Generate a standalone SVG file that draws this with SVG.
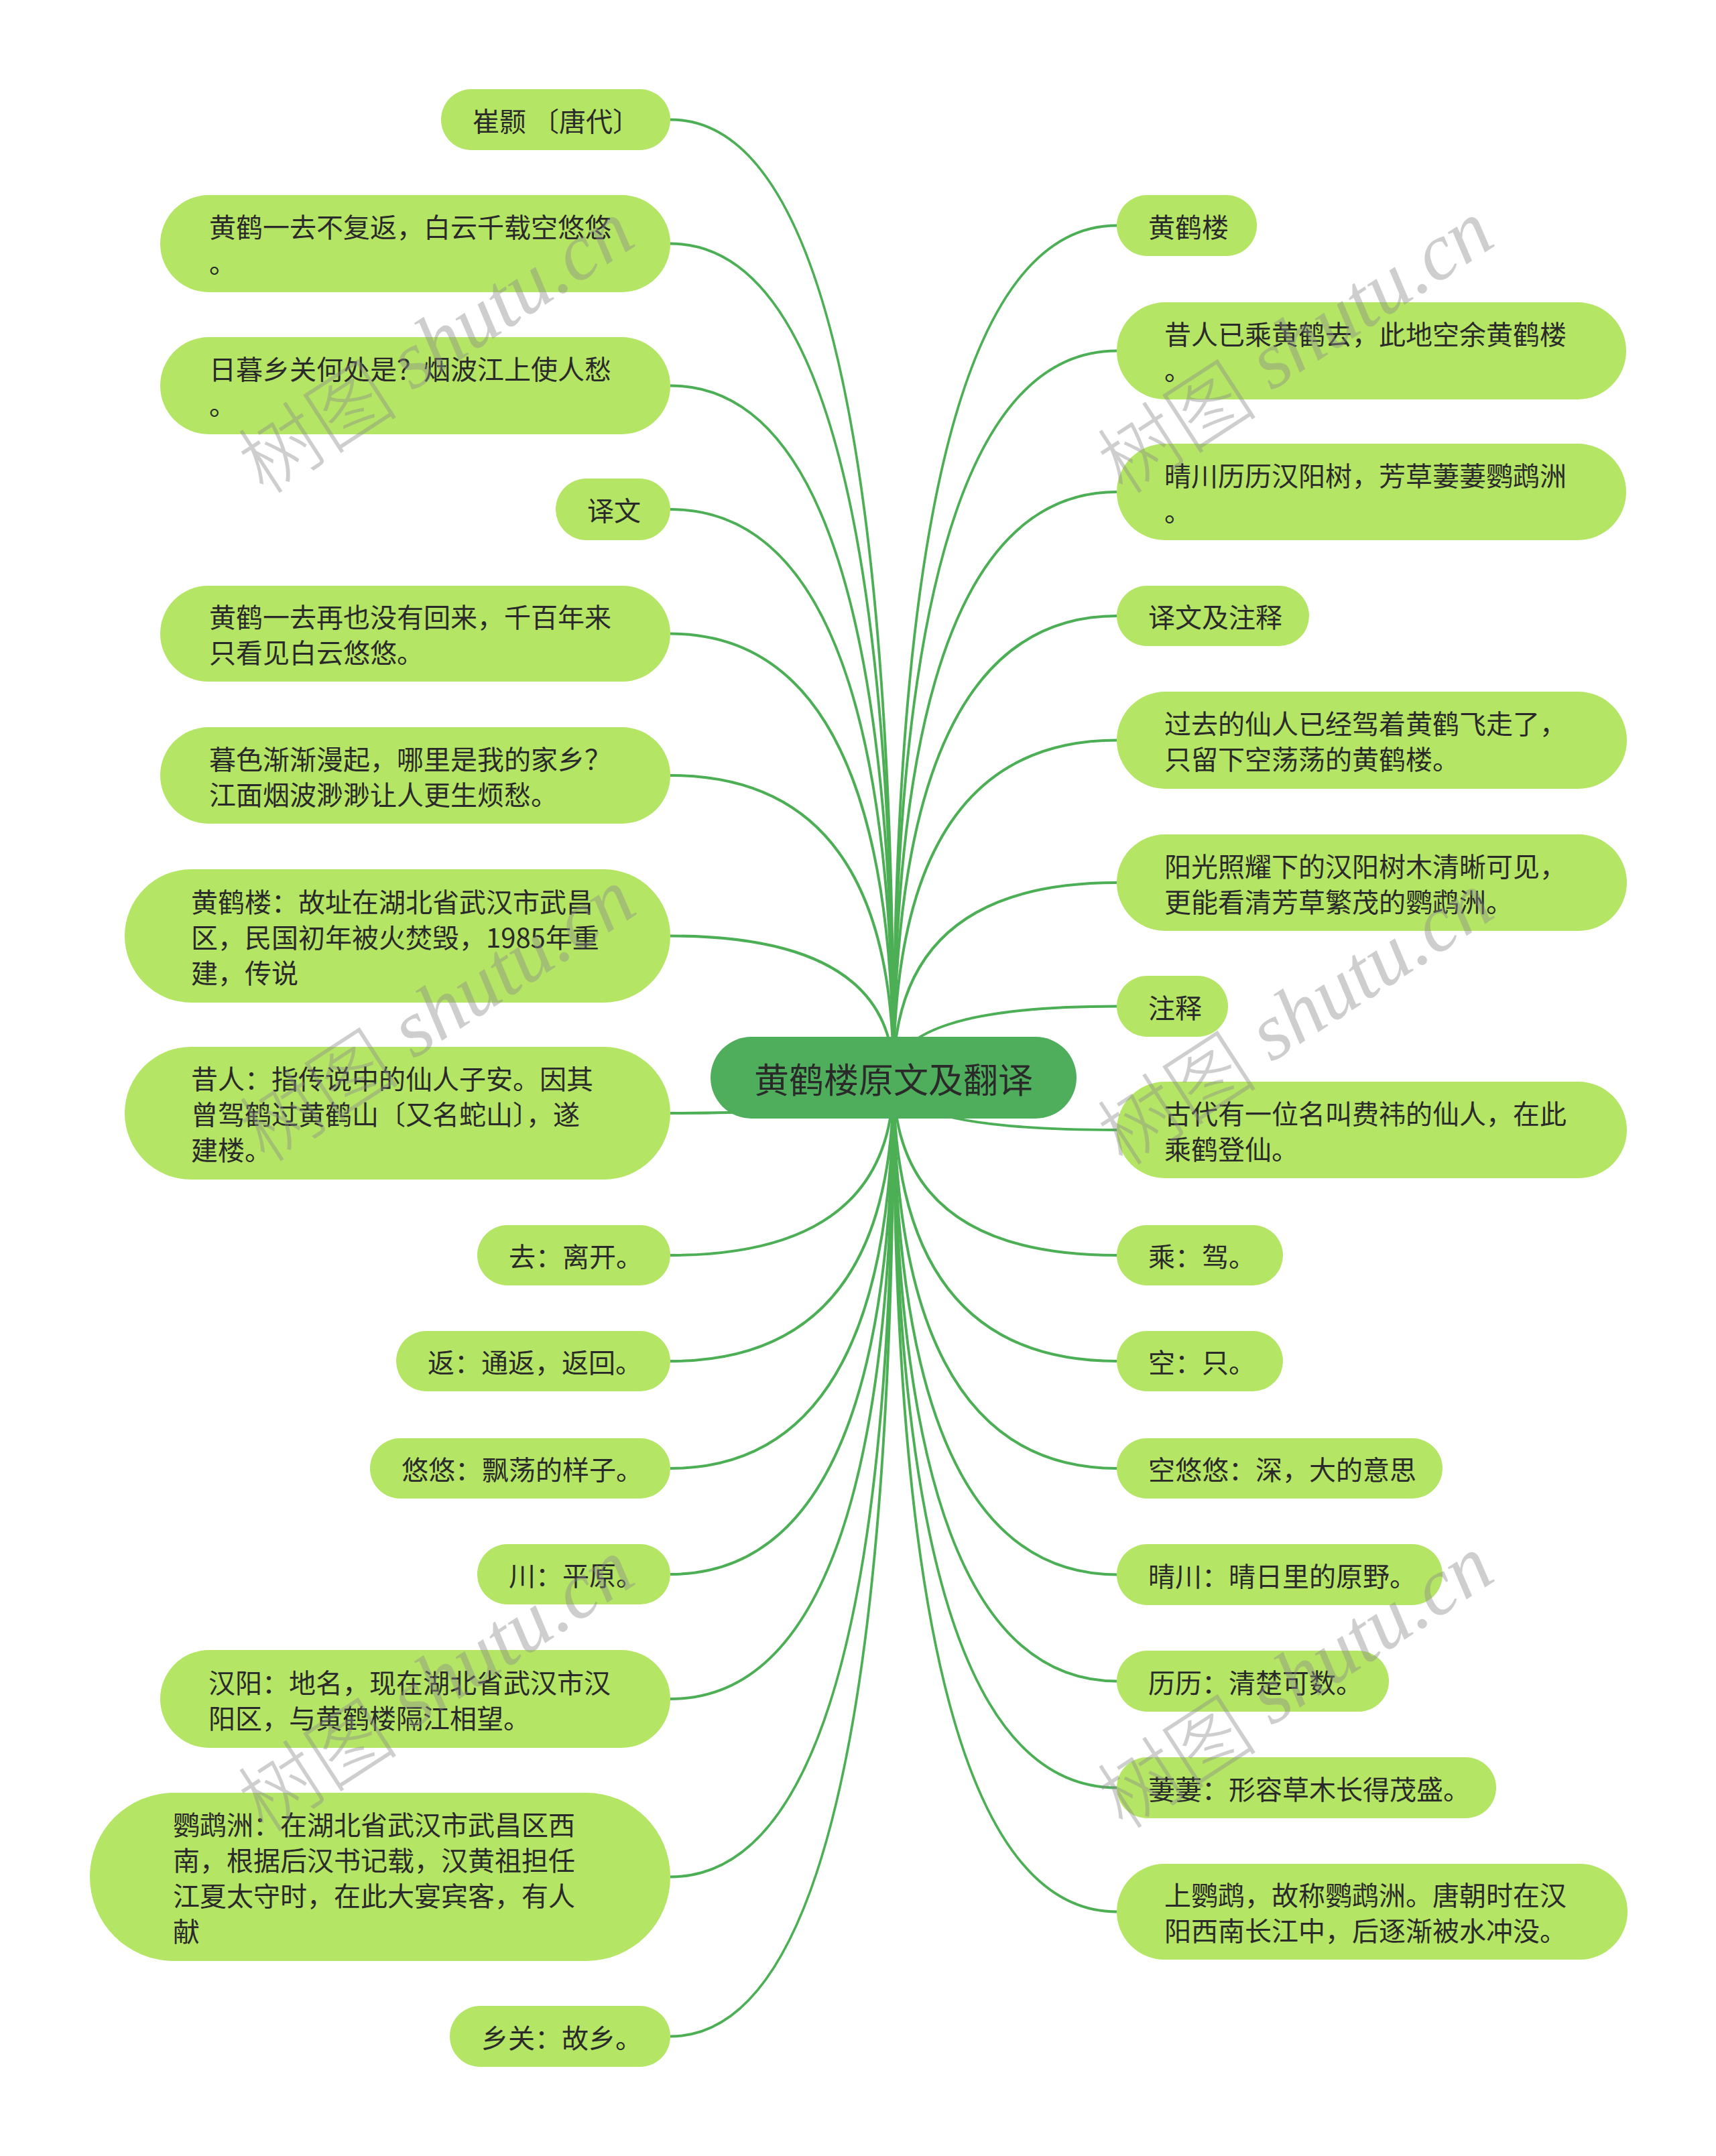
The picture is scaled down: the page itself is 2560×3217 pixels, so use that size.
<svg xmlns="http://www.w3.org/2000/svg" width="2560" height="3217" viewBox="0 0 2560 3217">
<style>
.bg{fill:#ffffff}
.e path{fill:none;stroke:#4caf55;stroke-width:4}
.n rect{fill:#b4e564}
.n text{font-family:"Noto Sans CJK SC","Noto Sans",sans-serif;font-size:40px;fill:#2a2a2a;dominant-baseline:central}
#root rect{fill:#4fae5c}
#root text{font-family:"Noto Sans CJK SC","Noto Sans",sans-serif;font-size:52px;fill:#2a2a2a;dominant-baseline:central;text-anchor:middle}
.wm text{font-size:120px;fill:#8c8c8c;opacity:0.42;text-anchor:middle;dominant-baseline:central}
.wm .c{font-family:"Noto Sans CJK SC",sans-serif;font-weight:300}
.wm .l{font-family:"Liberation Serif",serif;font-style:italic}
</style>
<rect class="bg" x="0" y="0" width="2560" height="3217"/>
<g id="connectors" class="e">
<path d="M1333,1608 Q1333,178.5 1000,178.5"/>
<path d="M1333,1608 Q1333,363.5 1000,363.5"/>
<path d="M1333,1608 Q1333,575.5 1000,575.5"/>
<path d="M1333,1608 Q1333,760 1000,760"/>
<path d="M1333,1608 Q1333,945.5 1000,945.5"/>
<path d="M1333,1608 Q1333,1157 1000,1157"/>
<path d="M1333,1608 Q1333,1396.5 1000,1396.5"/>
<path d="M1333,1608 Q1333,1661 1000,1661"/>
<path d="M1333,1608 Q1333,1873 1000,1873"/>
<path d="M1333,1608 Q1333,2031 1000,2031"/>
<path d="M1333,1608 Q1333,2191 1000,2191"/>
<path d="M1333,1608 Q1333,2349 1000,2349"/>
<path d="M1333,1608 Q1333,2535 1000,2535"/>
<path d="M1333,1608 Q1333,2800.5 1000,2800.5"/>
<path d="M1333,1608 Q1333,3038.5 1000,3038.5"/>
<path d="M1333,1608 Q1333,336.5 1666,336.5"/>
<path d="M1333,1608 Q1333,523.5 1666,523.5"/>
<path d="M1333,1608 Q1333,734 1666,734"/>
<path d="M1333,1608 Q1333,919 1666,919"/>
<path d="M1333,1608 Q1333,1104.5 1666,1104.5"/>
<path d="M1333,1608 Q1333,1317 1666,1317"/>
<path d="M1333,1608 Q1333,1501.5 1666,1501.5"/>
<path d="M1333,1608 Q1333,1686 1666,1686"/>
<path d="M1333,1608 Q1333,1873 1666,1873"/>
<path d="M1333,1608 Q1333,2031 1666,2031"/>
<path d="M1333,1608 Q1333,2191 1666,2191"/>
<path d="M1333,1608 Q1333,2349.5 1666,2349.5"/>
<path d="M1333,1608 Q1333,2508.5 1666,2508.5"/>
<path d="M1333,1608 Q1333,2667.5 1666,2667.5"/>
<path d="M1333,1608 Q1333,2852.5 1666,2852.5"/>
</g>
<g id="root"><rect x="1060" y="1547" width="546" height="122" rx="61"/><text x="1333" y="1608">黄鹤楼原文及翻译</text></g>
<g id="L1" class="n"><rect x="658" y="133" width="342" height="91" rx="45.5"/><text x="705" y="178.5">崔颢 〔唐代〕</text></g>
<g id="L2" class="n"><rect x="239" y="291" width="761" height="145" rx="72.5"/><text x="312" y="337">黄鹤一去不复返，白云千载空悠悠</text><text x="312" y="390">。</text></g>
<g id="L3" class="n"><rect x="239" y="503" width="761" height="145" rx="72.5"/><text x="312" y="549">日暮乡关何处是？烟波江上使人愁</text><text x="312" y="602">。</text></g>
<g id="L4" class="n"><rect x="829" y="714" width="171" height="92" rx="46"/><text x="876" y="760">译文</text></g>
<g id="L5" class="n"><rect x="239" y="874" width="761" height="143" rx="71.5"/><text x="312" y="919">黄鹤一去再也没有回来，千百年来</text><text x="312" y="972">只看见白云悠悠。</text></g>
<g id="L6" class="n"><rect x="239" y="1085" width="761" height="144" rx="72"/><text x="312" y="1130.5">暮色渐渐漫起，哪里是我的家乡？</text><text x="312" y="1183.5">江面烟波渺渺让人更生烦愁。</text></g>
<g id="L7" class="n"><rect x="186" y="1297" width="814" height="199" rx="99.5"/><text x="285" y="1343.5">黄鹤楼：故址在湖北省武汉市武昌</text><text x="285" y="1396.5">区，民国初年被火焚毁，1985年重</text><text x="285" y="1449.5">建，传说</text></g>
<g id="L8" class="n"><rect x="186" y="1562" width="814" height="198" rx="99"/><text x="285" y="1608">昔人：指传说中的仙人子安。因其</text><text x="285" y="1661">曾驾鹤过黄鹤山〔又名蛇山〕，遂</text><text x="285" y="1714">建楼。</text></g>
<g id="L9" class="n"><rect x="712" y="1828" width="288" height="90" rx="45"/><text x="759" y="1873">去：离开。</text></g>
<g id="L10" class="n"><rect x="591" y="1986" width="409" height="90" rx="45"/><text x="638" y="2031">返：通返，返回。</text></g>
<g id="L11" class="n"><rect x="552" y="2146" width="448" height="90" rx="45"/><text x="599" y="2191">悠悠：飘荡的样子。</text></g>
<g id="L12" class="n"><rect x="712" y="2304" width="288" height="90" rx="45"/><text x="759" y="2349">川：平原。</text></g>
<g id="L13" class="n"><rect x="239" y="2462" width="761" height="146" rx="73"/><text x="311" y="2508.5">汉阳：地名，现在湖北省武汉市汉</text><text x="311" y="2561.5">阳区，与黄鹤楼隔江相望。</text></g>
<g id="L14" class="n"><rect x="134" y="2675" width="866" height="251" rx="125.5"/><text x="258" y="2721">鹦鹉洲：在湖北省武汉市武昌区西</text><text x="258" y="2774">南，根据后汉书记载，汉黄祖担任</text><text x="258" y="2827">江夏太守时，在此大宴宾客，有人</text><text x="258" y="2880">献</text></g>
<g id="L15" class="n"><rect x="671" y="2993" width="329" height="91" rx="45.5"/><text x="718" y="3038.5">乡关：故乡。</text></g>
<g id="R1" class="n"><rect x="1666" y="291" width="209" height="91" rx="45.5"/><text x="1713" y="336.5">黄鹤楼</text></g>
<g id="R2" class="n"><rect x="1666" y="451" width="760" height="145" rx="72.5"/><text x="1737" y="497">昔人已乘黄鹤去，此地空余黄鹤楼</text><text x="1737" y="550">。</text></g>
<g id="R3" class="n"><rect x="1666" y="662" width="760" height="144" rx="72"/><text x="1737" y="707.5">晴川历历汉阳树，芳草萋萋鹦鹉洲</text><text x="1737" y="760.5">。</text></g>
<g id="R4" class="n"><rect x="1666" y="874" width="287" height="90" rx="45"/><text x="1713" y="919">译文及注释</text></g>
<g id="R5" class="n"><rect x="1666" y="1032" width="761" height="145" rx="72.5"/><text x="1737" y="1078">过去的仙人已经驾着黄鹤飞走了，</text><text x="1737" y="1131">只留下空荡荡的黄鹤楼。</text></g>
<g id="R6" class="n"><rect x="1666" y="1245" width="761" height="144" rx="72"/><text x="1737" y="1290.5">阳光照耀下的汉阳树木清晰可见，</text><text x="1737" y="1343.5">更能看清芳草繁茂的鹦鹉洲。</text></g>
<g id="R7" class="n"><rect x="1666" y="1456" width="166" height="91" rx="45.5"/><text x="1713" y="1501.5">注释</text></g>
<g id="R8" class="n"><rect x="1666" y="1614" width="761" height="144" rx="72"/><text x="1737" y="1659.5">古代有一位名叫费祎的仙人，在此</text><text x="1737" y="1712.5">乘鹤登仙。</text></g>
<g id="R9" class="n"><rect x="1666" y="1828" width="248" height="90" rx="45"/><text x="1713" y="1873">乘：驾。</text></g>
<g id="R10" class="n"><rect x="1666" y="1986" width="248" height="90" rx="45"/><text x="1713" y="2031">空：只。</text></g>
<g id="R11" class="n"><rect x="1666" y="2146" width="486" height="90" rx="45"/><text x="1713" y="2191">空悠悠：深，大的意思</text></g>
<g id="R12" class="n"><rect x="1666" y="2304" width="486" height="91" rx="45.5"/><text x="1713" y="2349.5">晴川：晴日里的原野。</text></g>
<g id="R13" class="n"><rect x="1666" y="2463" width="406" height="91" rx="45.5"/><text x="1713" y="2508.5">历历：清楚可数。</text></g>
<g id="R14" class="n"><rect x="1666" y="2622" width="566" height="91" rx="45.5"/><text x="1713" y="2667.5">萋萋：形容草木长得茂盛。</text></g>
<g id="R15" class="n"><rect x="1666" y="2781" width="762" height="143" rx="71.5"/><text x="1737" y="2826">上鹦鹉，故称鹦鹉洲。唐朝时在汉</text><text x="1737" y="2879">阳西南长江中，后逐渐被水冲没。</text></g>
<g id="watermarks" class="wm">
<text transform="rotate(-33 648 513)" x="648" y="513"><tspan class="c">树图</tspan><tspan class="l"> shutu.cn</tspan></text>
<text transform="rotate(-33 1930 513)" x="1930" y="513"><tspan class="c">树图</tspan><tspan class="l"> shutu.cn</tspan></text>
<text transform="rotate(-33 650 1510)" x="650" y="1510"><tspan class="c">树图</tspan><tspan class="l"> shutu.cn</tspan></text>
<text transform="rotate(-33 1930 1515)" x="1930" y="1515"><tspan class="c">树图</tspan><tspan class="l"> shutu.cn</tspan></text>
<text transform="rotate(-33 648 2510)" x="648" y="2510"><tspan class="c">树图</tspan><tspan class="l"> shutu.cn</tspan></text>
<text transform="rotate(-33 1930 2505)" x="1930" y="2505"><tspan class="c">树图</tspan><tspan class="l"> shutu.cn</tspan></text>
</g>
</svg>
